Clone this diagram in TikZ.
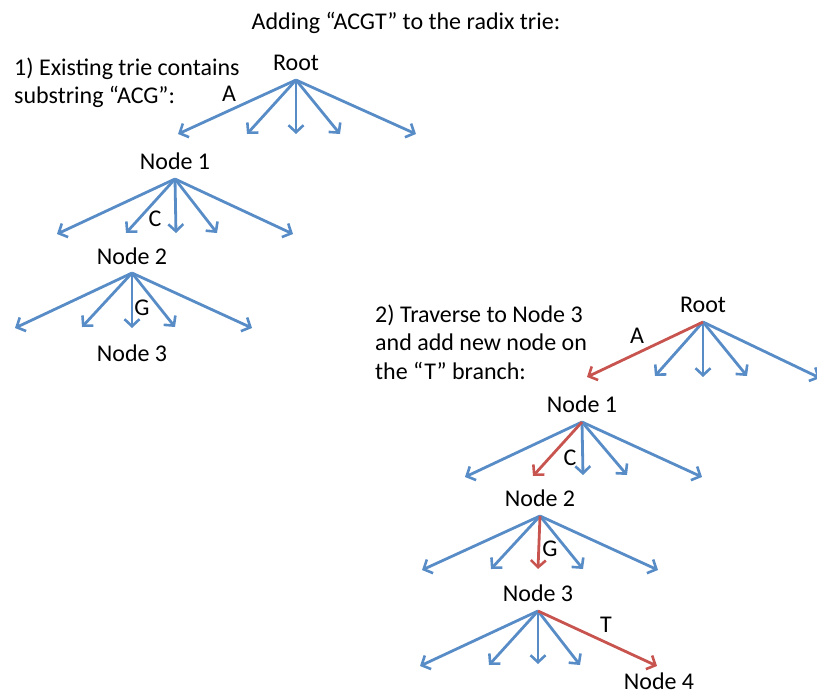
\documentclass[tikz,border=0pt]{standalone}
\usepackage{fontspec}
\setmainfont{Carlito}
\usetikzlibrary{arrows.meta}
\definecolor{edgeblue}{RGB}{88,140,198}
\definecolor{edgered}{RGB}{200,84,80}
\begin{document}
\begin{tikzpicture}[x=1pt,y=-1pt,
  lbl/.style={inner sep=0pt,font=\fontsize{24}{28.5}\selectfont},
  txt/.style={lbl,anchor=west,align=left},
  edge/.style={draw=edgeblue,line width=2.8pt,
    -{Straight Barb[length=7pt,width=15pt,line width=2.6pt]}},
  hot/.style={edge,draw=edgered}]
\useasboundingbox (0,0) rectangle (817,696);

% title and captions
\node[lbl] (title) at (406,23) {Adding “ACGT” to the radix trie:};
\node[txt] (cap1) at (14,83) {1) Existing trie contains\\substring “ACG”:};
\node[txt] (cap2) at (375,342) {2) Traverse to Node 3\\and add new node on\\the “T” branch:};

% ---- first trie ----
\node[lbl] (root1) at (296,63) {Root};
\node[lbl] (n11) at (175,161) {Node 1};
\node[lbl] (n21) at (132,256) {Node 2};
\node[lbl] (n31) at (132,353) {Node 3};
\coordinate (r1) at (296,80);
\coordinate (p11) at (175,179);
\coordinate (p21) at (132,273);
\foreach \n/\x/\y in {ra/178/134,rb/247/134,rc/296/134,rd/340/134,re/416/134,
                      aa/57/234,ab/126/233,ac/176/233,ad/217/233,ae/293/234,
                      ba/15/328,bb/82/327,bc/132/328,bd/175/327,be/252/328}
  \coordinate (\n) at (\x,\y);
\foreach \e in {ra,rb,rc,rd,re} \draw[edge] (r1) -- (\e);
\foreach \e in {aa,ab,ac,ad,ae} \draw[edge] (p11) -- (\e);
\foreach \e in {ba,bb,bc,bd,be} \draw[edge] (p21) -- (\e);
\node[lbl] (la1) at (229,94) {A};
\node[lbl] (lc1) at (155,219) {C};
\node[lbl] (lg1) at (142,308) {G};

% ---- second trie ----
\node[lbl] (root2) at (703,305) {Root};
\node[lbl] (n12) at (582,404) {Node 1};
\node[lbl] (n22) at (540,498) {Node 2};
\node[lbl] (n32) at (538,593) {Node 3};
\node[lbl] (n42) at (659,681) {Node 4};
\coordinate (r2) at (703,322);
\coordinate (p12) at (582,422);
\coordinate (p22) at (540,516);
\coordinate (p32) at (538,611);
\foreach \n/\x/\y in {sa/587/377,sb/655/376,sc/703/377,sd/747/376,se/820/378,
                      ca/465/477,cb/533/476,cc/583/475,cd/627/475,ce/702/477,
                      da/422/570,db/491/569,dc/538/569,dd/583/569,de/658/570,
                      ea/420/666,eb/489/665,ec/538/664,ed/580/665,ee/657/666}
  \coordinate (\n) at (\x,\y);
\foreach \e in {sb,sc,sd,se} \draw[edge] (r2) -- (\e);
\foreach \e in {ca,cc,cd,ce} \draw[edge] (p12) -- (\e);
\foreach \e in {da,db,dd,de} \draw[edge] (p22) -- (\e);
\foreach \e in {ea,eb,ec,ed} \draw[edge] (p32) -- (\e);
% the path followed for "ACGT"
\draw[hot] (r2) -- (sa);
\draw[hot] (p12) -- (cb);
\draw[hot] (p22) -- (dc);
\draw[hot] (p32) -- (ee);
\node[lbl] (la2) at (637,336) {A};
\node[lbl] (lc2) at (570,458) {C};
\node[lbl] (lg2) at (550,549) {G};
\node[lbl] (lt2) at (606,625) {T};
\end{tikzpicture}
\end{document}
